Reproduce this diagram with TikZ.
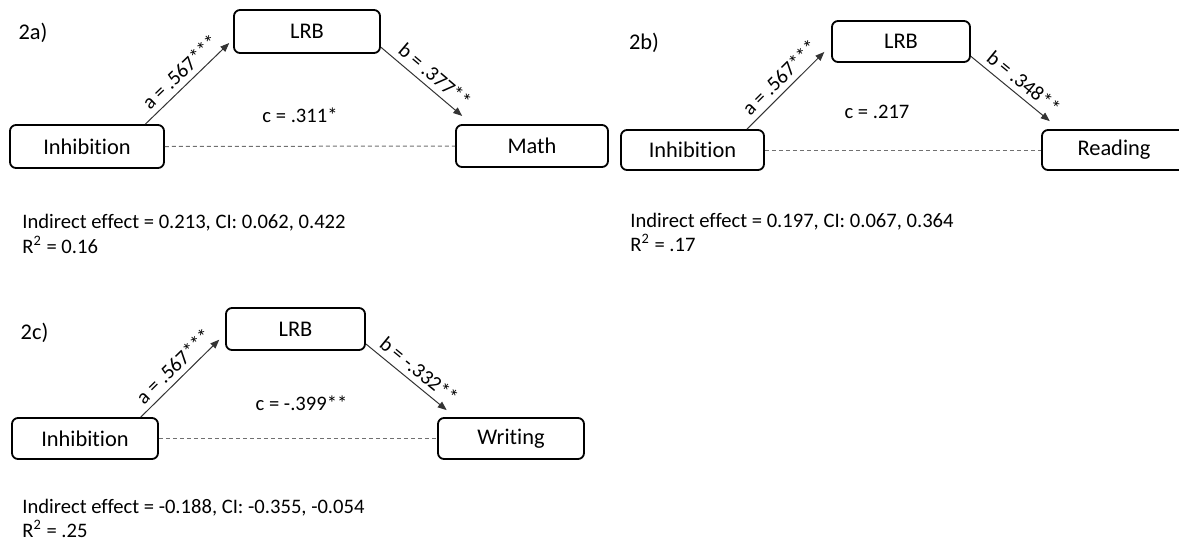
\documentclass[tikz,border=0pt]{standalone}
\usepackage{fontspec}
\setmainfont{Carlito}[Ligatures=NoCommon]
\usetikzlibrary{arrows.meta}
\definecolor{pathgray}{HTML}{333333}
\definecolor{dashgray}{HTML}{707070}

\begin{document}
\begin{tikzpicture}[x=0.5pt, y=-0.5pt,
  font=\fontsize{10.3}{12}\selectfont,
  varbox/.style={draw, line width=0.9pt, rounded corners=3pt, inner sep=0pt,
    font=\fontsize{11.2}{13}\selectfont},
  panel/.style={font=\fontsize{11.2}{13}\selectfont, inner sep=0pt},
  effect/.style={draw=pathgray, line width=0.5pt, -{Triangle[length=4.5pt,width=3.5pt]}},
  direct/.style={draw=dashgray, line width=0.5pt, dash pattern=on 2pt off 1.5pt},
  coef/.style={midway, sloped, above, inner sep=2.8pt},
  note/.style={anchor=base west, inner sep=0pt}]
\useasboundingbox (0,0) rectangle (1179,543);
\clip (0,0) rectangle (1179,543);

% 2a) inhibition -> LRB -> math
\node[panel] (labA) at (33,33) {2a)};
\node[varbox, minimum width=77pt, minimum height=21.5pt] (inhA) at (87,146.5) {Inhibition};
\node[varbox, minimum width=73pt, minimum height=21.5pt] (lrbA) at (307,31.5) {LRB};
\node[varbox, minimum width=76pt, minimum height=21pt] (mathA) at (532,146) {Math};
\draw[effect, shorten >=2.7pt] (inhA.21) -- (lrbA.186) node[coef] (aA) {a = .567***};
\draw[effect, shorten >=6.3pt] (lrbA.348) -- (mathA.160) node[coef] (bA) {b = .377**};
\draw[direct] (inhA.east) -- (mathA.west);
\node (cA) at (300,115) {c = .311*};
\node[note] (indA) at (22,228) {Indirect effect = 0.213, CI: 0.062, 0.422};
\node[note] (rsqA) at (22,253) {R\textsuperscript{2} = 0.16};

% 2b) inhibition -> LRB -> reading
\node[panel] (labB) at (644,43) {2b)};
\node[varbox, minimum width=71.5pt, minimum height=20pt] (inhB) at (692.5,150) {Inhibition};
\node[varbox, minimum width=69pt, minimum height=20.5pt] (lrbB) at (901,41.5) {LRB};
\node[varbox, minimum width=72pt, minimum height=20pt] (readB) at (1114,150) {Reading};
\draw[effect, shorten >=4.8pt] (inhB.21) -- (lrbB.183) node[coef] (aB) {a = .567***};
\draw[effect, shorten >=6.3pt] (lrbB.348) -- (readB.159) node[coef] (bB) {b = .348**};
\draw[direct] (inhB.east) -- (readB.west);
\node (cB) at (877,112) {c = .217};
\node[note] (indB) at (630,227) {Indirect effect = 0.197, CI: 0.067, 0.364};
\node[note] (rsqB) at (630,251) {R\textsuperscript{2} = .17};

% 2c) inhibition -> LRB -> writing
\node[panel] (labC) at (34.5,333) {2c)};
\node[varbox, minimum width=73pt, minimum height=20.5pt] (inhC) at (85,438.5) {Inhibition};
\node[varbox, minimum width=69.5pt, minimum height=21pt] (lrbC) at (295.5,329) {LRB};
\node[varbox, minimum width=73pt, minimum height=20.5pt] (wrC) at (511,438.5) {Writing};
\draw[effect, shorten >=4.1pt] (inhC.21.5) -- (lrbC.184.4) node[coef] (aC) {a = .567***};
\draw[effect, shorten >=5.5pt] (lrbC.348) -- (wrC.159.4) node[coef] (bC) {b = -.332**};
\draw[direct] (inhC.east) -- (wrC.west);
\node (cC) at (301.5,403) {c = -.399**};
\node[note] (indC) at (22,513) {Indirect effect = -0.188, CI: -0.355, -0.054};
\node[note] (rsqC) at (22,537) {R\textsuperscript{2} = .25};
\end{tikzpicture}
\end{document}
